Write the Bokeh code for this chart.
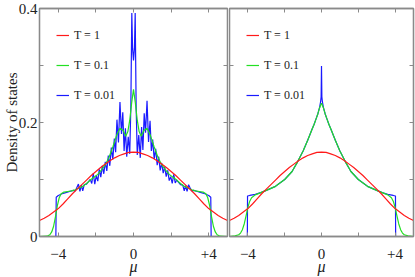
from bokeh.plotting import figure
from bokeh.models import Range1d, FixedTicker, LinearAxis, Legend, LegendItem
from bokeh.layouts import row
from bokeh.embed import file_html
from bokeh.resources import INLINE

# ---------------- data ----------------
# T = 1 (same in both panels)
mu_red = [-5, -4.75, -4.5, -4.25, -4, -3.75, -3.5, -3.25, -3, -2.75, -2.5, -2.25, -2, -1.75,
          -1.5, -1.25, -1, -0.75, -0.5, -0.25, 0, 0.25, 0.5, 0.75, 1, 1.25, 1.5, 1.75, 2,
          2.25, 2.5, 2.75, 3, 3.25, 3.5, 3.75, 4, 4.25, 4.5, 4.75, 5]
dos_red = [0.028, 0.032, 0.037, 0.043, 0.049, 0.057, 0.066, 0.075, 0.083, 0.091, 0.099, 0.107,
           0.114, 0.121, 0.127, 0.133, 0.138, 0.142, 0.145, 0.1475, 0.148, 0.1475, 0.145, 0.142,
           0.138, 0.133, 0.127, 0.121, 0.114, 0.107, 0.099, 0.091, 0.083, 0.075, 0.066, 0.057,
           0.049, 0.043, 0.037, 0.032, 0.028]

# left panel, T = 0.1
mu_green_l = [-5, -4.6, -4.45, -4.35, -4.25, -4.15, -4.05, -3.95, -3.85, -3.7, -3.5, -3.3, -3.1,
              -2.9, -2.7, -2.5, -2.3, -2.1, -1.9, -1.7, -1.5, -1.3, -1.1, -0.9, -0.72, -0.55,
              -0.41, -0.3, -0.2, -0.1, 0, 0.1, 0.2, 0.3, 0.41, 0.55, 0.72, 0.9, 1.1, 1.3, 1.5,
              1.7, 1.9, 2.1, 2.3, 2.5, 2.7, 2.9, 3.1, 3.3, 3.5, 3.7, 3.85, 3.95, 4.05, 4.15,
              4.25, 4.35, 4.45, 4.6, 5]
dos_green_l = [0, 0.0005, 0.003, 0.008, 0.018, 0.035, 0.054, 0.068, 0.075, 0.078, 0.079, 0.080,
               0.082, 0.085, 0.088, 0.093, 0.099, 0.104, 0.109, 0.117, 0.126, 0.139, 0.157,
               0.177, 0.190, 0.186, 0.176, 0.184, 0.204, 0.234, 0.258, 0.234, 0.204, 0.184,
               0.176, 0.186, 0.190, 0.177, 0.157, 0.139, 0.126, 0.117, 0.109, 0.104, 0.099,
               0.093, 0.088, 0.085, 0.082, 0.080, 0.079, 0.078, 0.075, 0.068, 0.054, 0.035,
               0.018, 0.008, 0.003, 0.0005, 0]

# left panel, T = 0.01
mu_blue_l = [-5, -4.13, -4.11, -4.0, -3.8, -3.6, -3.4, -3.2, -3.1, -3.0, -2.93, -2.85, -2.77,
             -2.7, -2.62, -2.5, -2.4, -2.3, -2.22, -2.14, -2.06, -1.98, -1.9, -1.82, -1.74,
             -1.66, -1.58, -1.5, -1.42, -1.34, -1.26, -1.18, -1.1, -1.02, -0.95, -0.88, -0.8,
             -0.72, -0.64, -0.57, -0.5, -0.43, -0.36, -0.28, -0.2, -0.14, -0.09, -0.05, 0,
             0.05, 0.09, 0.14, 0.2, 0.28, 0.36, 0.43, 0.5, 0.57, 0.64, 0.72, 0.8, 0.88, 0.95,
             1.02, 1.1, 1.18, 1.26, 1.34, 1.42, 1.5, 1.58, 1.66, 1.74, 1.82, 1.9, 1.98, 2.06,
             2.14, 2.22, 2.3, 2.4, 2.5, 2.62, 2.7, 2.77, 2.85, 2.93, 3.0, 3.1, 3.2, 3.4, 3.6,
             3.8, 4.0, 4.11, 4.13, 5]
dos_blue_l = [0, 0, 0.069, 0.072, 0.075, 0.077, 0.079, 0.081, 0.080, 0.087, 0.092, 0.079, 0.090,
              0.080, 0.091, 0.092, 0.096, 0.100, 0.093, 0.111, 0.092, 0.107, 0.097, 0.118, 0.104,
              0.124, 0.110, 0.131, 0.115, 0.142, 0.124, 0.156, 0.135, 0.172, 0.148, 0.205,
              0.165, 0.236, 0.180, 0.218, 0.150, 0.190, 0.140, 0.175, 0.145, 0.230, 0.392,
              0.330, 0.309, 0.330, 0.392, 0.228, 0.143, 0.178, 0.138, 0.192, 0.152, 0.216,
              0.182, 0.238, 0.166, 0.203, 0.150, 0.170, 0.136, 0.154, 0.125, 0.140, 0.116,
              0.129, 0.111, 0.122, 0.105, 0.116, 0.098, 0.105, 0.093, 0.109, 0.094, 0.099,
              0.095, 0.091, 0.090, 0.080, 0.089, 0.079, 0.091, 0.086, 0.080, 0.081, 0.079,
              0.077, 0.075, 0.072, 0.069, 0, 0]

# right panel, T = 0.1
mu_green_r = [-5, -4.7, -4.5, -4.4, -4.3, -4.2, -4.1, -4.0, -3.9, -3.8, -3.6, -3.3, -3.0, -2.5,
              -2.0, -1.6, -1.3, -1.0, -0.75, -0.53, -0.4, -0.3, -0.2, -0.1, 0, 0.1, 0.2, 0.3,
              0.4, 0.53, 0.75, 1.0, 1.3, 1.6, 2.0, 2.5, 3.0, 3.3, 3.6, 3.8, 3.9, 4.0, 4.1, 4.2,
              4.3, 4.4, 4.5, 4.7, 5]
dos_green_r = [0, 0.001, 0.003, 0.006, 0.012, 0.022, 0.036, 0.051, 0.062, 0.068, 0.073, 0.077,
               0.081, 0.088, 0.100, 0.114, 0.131, 0.150, 0.169, 0.187, 0.197, 0.206, 0.215,
               0.226, 0.234, 0.226, 0.215, 0.206, 0.197, 0.187, 0.169, 0.150, 0.131, 0.114,
               0.100, 0.088, 0.081, 0.077, 0.073, 0.068, 0.062, 0.051, 0.036, 0.022, 0.012,
               0.006, 0.003, 0.001, 0]

# right panel, T = 0.01
mu_blue_r = [-5, -4.03, -4.02, -3.9, -3.6, -3.3, -3.0, -2.5, -2.0, -1.6, -1.3, -1.0, -0.75,
             -0.53, -0.4, -0.3, -0.2, -0.1, -0.05, -0.02, 0, 0.02, 0.05, 0.1, 0.2, 0.3, 0.4,
             0.53, 0.75, 1.0, 1.3, 1.6, 2.0, 2.5, 3.0, 3.3, 3.6, 3.9, 4.02, 4.03, 5]
dos_blue_r = [0, 0, 0.071, 0.072, 0.074, 0.077, 0.081, 0.088, 0.100, 0.114, 0.131, 0.150, 0.169,
              0.187, 0.197, 0.206, 0.215, 0.227, 0.236, 0.245, 0.299, 0.245, 0.236, 0.227,
              0.215, 0.206, 0.197, 0.187, 0.169, 0.150, 0.131, 0.114, 0.100, 0.088, 0.081,
              0.077, 0.074, 0.072, 0.071, 0, 0]

legend_labels = ["T = 1", "T = 0.1", "T = 0.01"]
x_major = [-4, 0, 4]
x_minor = [-2, 2]
x_tick_text = {-4: "\u22124", 0: "0", 4: "+4"}
y_major = [0, 0.2, 0.4]
y_minor = [0.1, 0.3]

# ---------------- styling ----------------
FONT = "Liberation Serif"
GRAY = "#8a8a8a"
TXT = "#222222"
RED, GREEN, BLUE = "#ff1a1a", "#22e022", "#1a1aff"
H = 277


def style_axis(ax, labels, is_x):
    major = x_major if is_x else y_major
    minor = x_minor if is_x else y_minor
    if labels:
        ax.ticker = FixedTicker(ticks=major, minor_ticks=minor)
    else:
        # tick marks only, no tick labels
        ax.ticker = FixedTicker(ticks=[], minor_ticks=major + minor)
        ax.axis_label = None
    ax.axis_line_color = GRAY
    ax.axis_line_width = 1.3
    ax.major_tick_line_color = GRAY
    ax.minor_tick_line_color = GRAY
    ax.major_tick_in = 4
    ax.major_tick_out = 0
    ax.minor_tick_in = 4
    ax.minor_tick_out = 0
    ax.major_label_text_font = FONT
    ax.major_label_text_color = TXT
    ax.major_label_text_font_size = "15px"
    ax.major_label_standoff = 12 if is_x else 2
    ax.axis_label_text_font = FONT
    ax.axis_label_text_color = TXT


def make_fig(width, show_y_labels, green_x, green_y, blue_x, blue_y):
    p = figure(width=width, height=H, x_range=Range1d(-5, 5), y_range=Range1d(0, 0.4),
               output_backend="svg", toolbar_location=None,
               min_border_top=8, min_border_bottom=0,
               min_border_left=0, min_border_right=2)
    p.grid.visible = False
    p.outline_line_color = GRAY
    p.outline_line_width = 1.3
    p.background_fill_color = "white"
    p.border_fill_color = "white"

    xa = p.xaxis[0]
    style_axis(xa, True, True)
    xa.major_label_overrides = x_tick_text
    xa.axis_label = "\u03bc"
    xa.axis_label_text_font_size = "16px"
    xa.axis_label_text_font_style = "italic"
    xa.axis_label_standoff = -4

    ya = p.yaxis[0]
    style_axis(ya, show_y_labels, False)
    if show_y_labels:
        ya.axis_label = "Density of states"
        ya.axis_label_text_font_size = "15px"
        ya.axis_label_text_font_style = "normal"
        ya.axis_label_standoff = -4

    top = LinearAxis()
    style_axis(top, False, True)
    p.add_layout(top, "above")
    right = LinearAxis()
    style_axis(right, False, False)
    p.add_layout(right, "right")

    rb = p.line(blue_x, blue_y, line_color=BLUE, line_width=1.2)
    rg = p.line(green_x, green_y, line_color=GREEN, line_width=1.2)
    rr = p.line(mu_red, dos_red, line_color=RED, line_width=1.2)

    leg = Legend(items=[LegendItem(label=legend_labels[0], renderers=[rr]),
                        LegendItem(label=legend_labels[1], renderers=[rg]),
                        LegendItem(label=legend_labels[2], renderers=[rb])],
                 location="top_left")
    leg.margin = 10
    leg.padding = 7
    leg.spacing = 10
    leg.glyph_width = 13
    leg.glyph_height = 20
    leg.label_height = 20
    leg.label_standoff = 5
    leg.label_text_font = FONT
    leg.label_text_font_size = "12px"
    leg.label_text_color = TXT
    leg.background_fill_alpha = 0
    leg.border_line_alpha = 0
    p.add_layout(leg)
    return p


p1 = make_fig(229, True, mu_green_l, dos_green_l, mu_blue_l, dos_blue_l)
p2 = make_fig(186, False, mu_green_r, dos_green_r, mu_blue_r, dos_blue_r)

layout = row(p1, p2)
open("out.html", "w").write(file_html(layout, INLINE))
